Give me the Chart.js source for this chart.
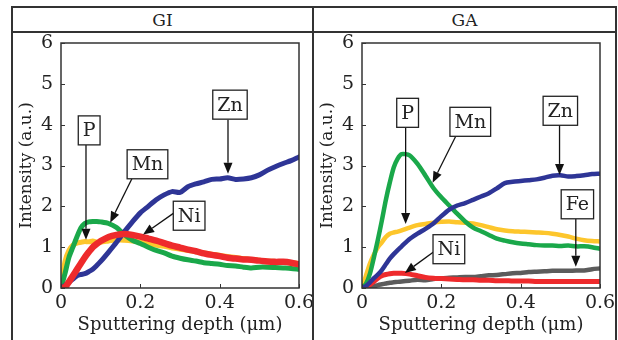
<!DOCTYPE html>
<html>
<head>
<meta charset="utf-8">
<script src="https://cdn.jsdelivr.net/npm/chart.js@4.4.1/dist/chart.umd.min.js"></script>
<style>
  html, body { margin: 0; padding: 0; background: #fff; }
  body { width: 618px; height: 340px; position: relative; overflow: hidden; font-family: "DejaVu Serif", serif; }
  .line { position: absolute; background: #333; }
  .head { position: absolute; top: 8px; height: 23px; line-height: 24px; text-align: center; font-size: 17px; color: #222; }
  .panel { position: absolute; top: 33px; height: 307px; }
</style>
</head>
<body>
<div class="line" style="left:11px;top:6px;width:606px;height:2px"></div>
<div class="line" style="left:11px;top:31px;width:606px;height:2px"></div>
<div class="line" style="left:11px;top:6px;width:2px;height:334px"></div>
<div class="line" style="left:312px;top:6px;width:2px;height:334px"></div>
<div class="line" style="left:615px;top:6px;width:2px;height:334px"></div>
<div class="head" style="left:13px;width:299px">GI</div>
<div class="head" style="left:314px;width:301px">GA</div>
<div class="panel" style="left:14px;width:298px"><canvas id="gi" width="298" height="307"></canvas></div>
<div class="panel" style="left:315px;width:300px"><canvas id="ga" width="300" height="307"></canvas></div>
<script>
// Depth profiles (intensity vs sputtering depth).
const FONT = '"DejaVu Serif", serif';

const depth = [0, 0.01, 0.02, 0.03, 0.04, 0.05, 0.06, 0.07, 0.08, 0.09, 0.10,
  0.12, 0.14, 0.16, 0.18, 0.20, 0.22, 0.24, 0.26, 0.28, 0.30,
  0.32, 0.34, 0.36, 0.38, 0.40, 0.42, 0.44, 0.46, 0.48, 0.50,
  0.52, 0.54, 0.56, 0.58, 0.60];

// GI panel
const giZn = [0, 0.06, 0.14, 0.22, 0.30, 0.33, 0.35, 0.40, 0.46, 0.55, 0.65,
  0.88, 1.12, 1.38, 1.62, 1.84, 2.00, 2.16, 2.28, 2.36, 2.34,
  2.48, 2.55, 2.60, 2.66, 2.67, 2.70, 2.66, 2.67, 2.70, 2.77,
  2.88, 2.97, 3.05, 3.12, 3.21];
const giMn = [0, 0.35, 0.75, 1.00, 1.25, 1.47, 1.58, 1.62, 1.63, 1.63, 1.62,
  1.58, 1.48, 1.30, 1.17, 1.09, 1.00, 0.92, 0.86, 0.78, 0.73,
  0.69, 0.66, 0.62, 0.60, 0.58, 0.55, 0.54, 0.51, 0.49, 0.51,
  0.51, 0.50, 0.49, 0.48, 0.46];
const giP = [0, 0.65, 0.92, 1.05, 1.10, 1.12, 1.14, 1.13, 1.15, 1.12, 1.12,
  1.15, 1.18, 1.17, 1.15, 1.12, 1.08, 1.05, 1.02, 0.98, 0.95,
  0.92, 0.89, 0.86, 0.83, 0.80, 0.77, 0.75, 0.72, 0.70, 0.68,
  0.66, 0.65, 0.64, 0.62, 0.60];
const giNi = [0, 0.02, 0.15, 0.30, 0.45, 0.60, 0.75, 0.88, 1.00, 1.08, 1.15,
  1.25, 1.30, 1.32, 1.30, 1.26, 1.21, 1.16, 1.10, 1.04, 0.99,
  0.94, 0.90, 0.85, 0.81, 0.78, 0.74, 0.72, 0.70, 0.69, 0.67,
  0.65, 0.64, 0.64, 0.62, 0.58];

// GA panel
const gaZn = [0, 0.05, 0.14, 0.24, 0.33, 0.44, 0.58, 0.72, 0.83, 0.93, 1.02,
  1.20, 1.33, 1.45, 1.58, 1.76, 1.92, 2.02, 2.08, 2.16, 2.24,
  2.32, 2.44, 2.57, 2.60, 2.62, 2.64, 2.66, 2.70, 2.75, 2.76,
  2.73, 2.74, 2.76, 2.79, 2.80];
const gaMn = [0, 0.10, 0.35, 0.75, 1.18, 1.65, 2.15, 2.58, 2.95, 3.17, 3.28,
  3.25, 3.04, 2.75, 2.45, 2.22, 2.02, 1.82, 1.63, 1.48, 1.39,
  1.30, 1.21, 1.16, 1.12, 1.09, 1.07, 1.05, 1.04, 1.04, 1.03,
  1.04, 1.02, 1.02, 1.00, 0.96];
const gaP = [0, 0.30, 0.60, 0.82, 1.00, 1.12, 1.25, 1.33, 1.36, 1.38, 1.41,
  1.48, 1.54, 1.57, 1.60, 1.62, 1.63, 1.61, 1.60, 1.58, 1.54,
  1.49, 1.44, 1.41, 1.39, 1.38, 1.37, 1.36, 1.35, 1.33, 1.30,
  1.26, 1.21, 1.17, 1.15, 1.14];
const gaNi = [0, 0.03, 0.08, 0.16, 0.24, 0.30, 0.33, 0.35, 0.36, 0.36, 0.36,
  0.34, 0.30, 0.26, 0.24, 0.23, 0.22, 0.21, 0.20, 0.20, 0.19,
  0.19, 0.18, 0.18, 0.17, 0.17, 0.17, 0.16, 0.16, 0.16, 0.16,
  0.16, 0.16, 0.16, 0.16, 0.16];
const gaFe = [0, 0.00, 0.02, 0.04, 0.07, 0.09, 0.11, 0.13, 0.14, 0.15, 0.16,
  0.18, 0.20, 0.19, 0.22, 0.24, 0.25, 0.26, 0.27, 0.27, 0.29,
  0.31, 0.32, 0.34, 0.36, 0.37, 0.39, 0.40, 0.41, 0.42, 0.42,
  0.42, 0.43, 0.43, 0.46, 0.48];

const COLORS = { Zn: '#2e3596', Mn: '#1aa84a', P: '#fdc62c', Ni: '#ee2a2c', Fe: '#5c5c5c' };

// label callouts: box centre and arrow (from -> to), in data units
const giNotes = [
  { text: 'P', box: [0.071, 3.86], from: [0.063, 3.51], to: [0.063, 1.18] },
  { text: 'Mn', box: [0.218, 3.03], from: [0.179, 2.68], to: [0.124, 1.60] },
  { text: 'Zn', box: [0.426, 4.49], from: [0.421, 4.12], to: [0.421, 2.80] },
  { text: 'Ni', box: [0.323, 1.77], from: [0.285, 1.84], to: [0.207, 1.31] },
];
const gaNotes = [
  { text: 'P', box: [0.115, 4.29], from: [0.110, 3.92], to: [0.110, 1.57] },
  { text: 'Mn', box: [0.273, 4.07], from: [0.236, 3.71], to: [0.178, 2.58] },
  { text: 'Zn', box: [0.500, 4.34], from: [0.498, 4.00], to: [0.498, 2.77] },
  { text: 'Fe', box: [0.543, 2.05], from: [0.539, 1.69], to: [0.539, 0.52] },
  { text: 'Ni', box: [0.219, 0.95], from: [0.181, 0.89], to: [0.108, 0.37] },
];

const framePlugin = {
  id: 'frame',
  afterDatasetsDraw(chart) {
    const { ctx, chartArea: a, scales } = chart;
    ctx.save();
    ctx.strokeStyle = '#333';
    ctx.lineWidth = 1.5;
    ctx.strokeRect(a.left, a.top, a.right - a.left, a.bottom - a.top);
    ctx.lineWidth = 1;
    ctx.beginPath();
    scales.y.ticks.forEach(t => {
      const y = Math.round(scales.y.getPixelForValue(t.value)) + 0.5;
      ctx.moveTo(a.left, y); ctx.lineTo(a.left + 4, y);
    });
    scales.x.ticks.forEach(t => {
      const x = Math.round(scales.x.getPixelForValue(t.value)) + 0.5;
      ctx.moveTo(x, a.bottom); ctx.lineTo(x, a.bottom - 4);
    });
    ctx.stroke();
    ctx.restore();
  }
};

function notesPlugin(notes) {
  return {
    id: 'notes',
    afterDraw(chart) {
      const { ctx, scales } = chart;
      const px = p => [scales.x.getPixelForValue(p[0]), scales.y.getPixelForValue(p[1])];
      ctx.save();
      ctx.font = '19px ' + FONT;
      notes.forEach(n => {
        const [fx, fy] = px(n.from);
        const [tx, ty] = px(n.to);
        const ang = Math.atan2(ty - fy, tx - fx);
        const hl = 11, hw = 4.5;
        const bx = tx - hl * Math.cos(ang), by = ty - hl * Math.sin(ang);
        ctx.strokeStyle = '#111';
        ctx.lineWidth = 1.3;
        ctx.beginPath(); ctx.moveTo(fx, fy); ctx.lineTo(bx, by); ctx.stroke();
        ctx.fillStyle = '#111';
        ctx.beginPath();
        ctx.moveTo(tx, ty);
        ctx.lineTo(bx + hw * Math.sin(ang), by - hw * Math.cos(ang));
        ctx.lineTo(bx - hw * Math.sin(ang), by + hw * Math.cos(ang));
        ctx.closePath(); ctx.fill();

        const [cx, cy] = px(n.box);
        const w = ctx.measureText(n.text).width + 9, h = 29;
        ctx.fillStyle = '#fff';
        ctx.fillRect(cx - w / 2, cy - h / 2, w, h);
        ctx.strokeStyle = '#222';
        ctx.lineWidth = 1.3;
        ctx.strokeRect(cx - w / 2, cy - h / 2, w, h);
        ctx.fillStyle = '#222';
        ctx.textAlign = 'center';
        ctx.textBaseline = 'middle';
        ctx.fillText(n.text, cx, cy + 1);
      });
      ctx.restore();
    }
  };
}

function makePanel(id, series, notes, rightPad) {
  const datasets = series.map(s => ({
    label: s.name,
    data: depth.map((d, i) => ({ x: d, y: s.values[i] })),
    borderColor: COLORS[s.name],
    borderWidth: s.width,
    order: s.order,
    pointRadius: 0,
    fill: false,
    tension: 0.25,
    borderCapStyle: 'round',
    borderJoinStyle: 'round',
  }));
  const tickFont = { family: FONT, size: 19 };
  return new Chart(document.getElementById(id), {
    type: 'line',
    data: { datasets },
    options: {
      responsive: false,
      animation: false,
      layout: { padding: { top: 10, right: rightPad, left: 0, bottom: 0 } },
      plugins: { legend: { display: false }, tooltip: { enabled: false } },
      scales: {
        x: {
          type: 'linear', min: 0, max: 0.6,
          afterFit: s => { s.height = 52; s.paddingLeft = 0; s.paddingRight = 0; },
          grid: { display: false, drawTicks: false },
          border: { display: false },
          ticks: {
            stepSize: 0.2, padding: 4, color: '#222', font: tickFont,
            maxRotation: 0, autoSkip: false,
            callback: v => (Math.abs(v) < 1e-9 ? '0' : v.toFixed(1)),
          },
          title: {
            display: true, text: 'Sputtering depth (μm)', color: '#222',
            font: { family: FONT, size: 18 }, padding: { top: 0, bottom: 4 },
          },
        },
        y: {
          min: 0, max: 6,
          afterFit: s => { s.width = 47; s.paddingTop = 0; s.paddingBottom = 0; },
          grid: { display: false, drawTicks: false },
          border: { display: false },
          ticks: { stepSize: 1, padding: 8, color: '#222', font: tickFont },
          title: {
            display: true, text: 'Intensity (a.u.)', color: '#222',
            font: { family: FONT, size: 17 }, padding: { top: 2, bottom: 0 },
          },
        },
      },
    },
    plugins: [framePlugin, notesPlugin(notes)],
  });
}

makePanel('gi', [
  { name: 'Ni', values: giNi, width: 6.5, order: 1 },
  { name: 'Zn', values: giZn, width: 5, order: 2 },
  { name: 'Mn', values: giMn, width: 5, order: 3 },
  { name: 'P', values: giP, width: 5, order: 4 },
], giNotes, 13);

makePanel('ga', [
  { name: 'Zn', values: gaZn, width: 4.5, order: 1 },
  { name: 'Mn', values: gaMn, width: 4.5, order: 2 },
  { name: 'P', values: gaP, width: 4.5, order: 3 },
  { name: 'Ni', values: gaNi, width: 5, order: 4 },
  { name: 'Fe', values: gaFe, width: 4.5, order: 5 },
], gaNotes, 15);
</script>
</body>
</html>
